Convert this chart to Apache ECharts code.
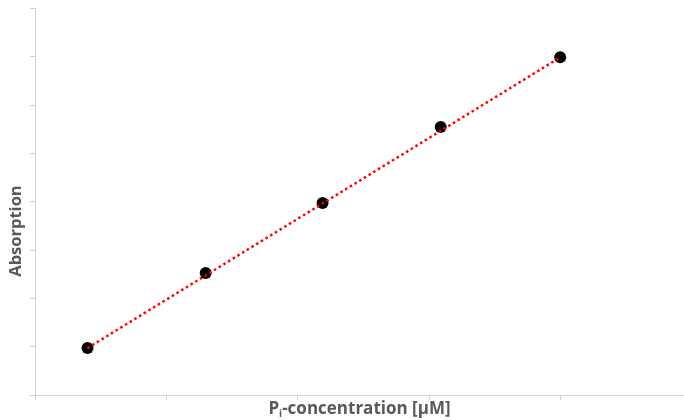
<!DOCTYPE html>
<html>
<head>
<meta charset="utf-8">
<script src="https://cdn.jsdelivr.net/npm/echarts@6/dist/echarts.min.js"></script>
<style>html,body{margin:0;padding:0;background:#fff;}#c{width:684px;height:420px;}</style>
</head>
<body>
<div id="c"></div>
<script>
var concentrations = [0.40, 1.30, 2.19, 3.09, 4.00];
var absorptions = [0.97, 2.52, 3.97, 5.54, 6.98];
var xTitle = 'P';
var xTitleSub = 'i';
var xTitleRest = '-concentration [µM]';
var yTitle = 'Absorption';

var points = concentrations.map(function (x, i) { return [x, absorptions[i]]; });
var trend = [points[0], points[points.length - 1]];

var chart = echarts.init(document.getElementById('c'), null, {renderer: 'canvas'});
var axisGray = '#d0d0d0';
var textGray = '#595959';
chart.setOption({
  animation: false,
  grid: {left: 35, right: 0, top: 8, bottom: 25, containLabel: false, outerBoundsMode: 'none'},
  xAxis: {
    type: 'value', min: 0, max: 4.943, interval: 1,
    name: '{a|' + xTitle + '}{s|' + xTitleSub + '}{a|' + xTitleRest + '}',
    nameLocation: 'middle', nameGap: 4,
    nameTextStyle: {
      rich: {
        a: {fontFamily: 'Open Sans', fontWeight: 'bold', fontSize: 17, color: textGray, lineHeight: 20},
        s: {fontFamily: 'Open Sans', fontWeight: 'bold', fontSize: 10, color: textGray, verticalAlign: 'bottom', padding: [9, 0, 0, 0]}
      }
    },
    axisLine: {show: true, lineStyle: {color: axisGray, width: 1}},
    axisTick: {show: true, inside: false, length: 5, lineStyle: {color: axisGray}},
    axisLabel: {show: false},
    splitLine: {show: false}
  },
  yAxis: {
    type: 'value', min: 0, max: 8, interval: 1,
    axisLine: {show: true, lineStyle: {color: axisGray, width: 1}},
    axisTick: {show: true, inside: false, length: 5, lineStyle: {color: axisGray}},
    axisLabel: {show: false},
    splitLine: {show: false}
  },
  graphic: [{
    type: 'text', x: 16, y: 231, rotation: Math.PI / 2,
    style: {text: yTitle, fill: textGray, font: 'bold 16.5px "Open Sans"', align: 'center', verticalAlign: 'middle'}
  }],
  series: [{
    type: 'scatter', data: points, symbol: 'circle', symbolSize: 12,
    itemStyle: {color: '#000', opacity: 1}, z: 2
  }, {
    type: 'line', data: trend, symbol: 'none', z: 3,
    lineStyle: {color: '#ff0000', width: 2.5, type: [2.5, 3]}
  }]
});
</script>
</body>
</html>
